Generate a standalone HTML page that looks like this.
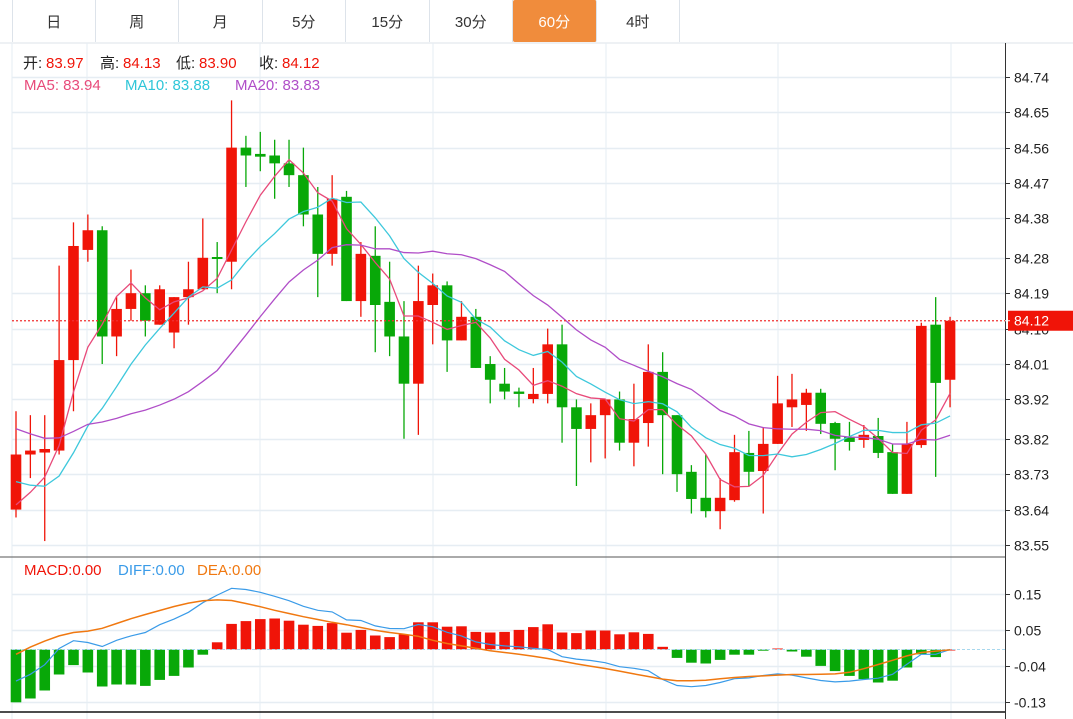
<!DOCTYPE html>
<html><head><meta charset="utf-8"><style>
body{margin:0;background:#fff;width:1073px;height:719px;overflow:hidden;font-family:"Liberation Sans","Noto Sans CJK SC",sans-serif}
.tabs{position:absolute;left:12px;top:0;height:42px;display:flex}
.tab{width:83.5px;height:42px;box-sizing:border-box;border-right:1px solid #dde3ea;display:flex;align-items:center;justify-content:center;font-size:15px;color:#333}
.tab.on{background:#f08c3c;color:#fff;border-radius:2px}
svg{position:absolute;left:0;top:0}
</style></head><body>
<div class="tabs">
<div class="tab" style="border-left:1px solid #dde3ea">日</div>
<div class="tab">周</div>
<div class="tab">月</div>
<div class="tab">5分</div>
<div class="tab">15分</div>
<div class="tab">30分</div>
<div class="tab on">60分</div>
<div class="tab">4时</div>
</div>
<svg id="chart" width="1073" height="719"></svg>
<script>
const opens=[83.64,83.78,83.785,83.79,84.02,84.30,84.35,84.08,84.15,84.19,84.11,84.09,84.18,84.20,84.282,84.27,84.56,84.544,84.54,84.52,84.49,84.39,84.29,84.435,84.17,84.285,84.168,84.08,83.96,84.16,84.21,84.07,84.13,84.01,83.96,83.94,83.921,83.934,84.06,83.90,83.845,83.88,83.92,83.81,83.86,83.99,83.88,83.736,83.67,83.636,83.664,83.784,83.738,83.807,83.90,83.906,83.937,83.86,83.825,83.817,83.827,83.786,83.68,83.804,84.11,83.97];
const highs=[83.89,83.88,83.88,84.26,84.37,84.39,84.36,84.18,84.25,84.21,84.21,84.18,84.27,84.38,84.32,84.68,84.59,84.60,84.58,84.58,84.56,84.46,84.49,84.45,84.32,84.36,84.27,84.17,84.26,84.24,84.22,84.17,84.15,84.03,84.00,83.95,84.00,84.10,84.11,83.92,83.91,83.92,83.94,83.96,84.06,84.04,83.88,83.753,83.78,83.72,83.83,83.84,83.85,83.98,83.985,83.947,83.947,83.863,83.863,83.855,83.873,83.807,83.863,84.115,84.18,84.13];
const lows=[83.62,83.72,83.56,83.78,83.89,84.27,84.01,84.03,84.12,84.08,84.11,84.05,84.11,84.20,84.19,84.20,84.46,84.50,84.43,84.46,84.36,84.18,84.26,84.17,84.13,84.04,84.03,83.82,83.83,84.06,83.99,84.07,84.00,83.91,83.92,83.90,83.91,83.91,83.81,83.70,83.76,83.77,83.79,83.75,83.80,83.73,83.685,83.63,83.62,83.59,83.66,83.70,83.63,83.807,83.85,83.84,83.832,83.74,83.79,83.797,83.771,83.68,83.68,83.797,83.723,83.90];
const closes=[83.78,83.79,83.794,84.02,84.31,84.35,84.08,84.15,84.19,84.12,84.20,84.18,84.20,84.28,84.278,84.56,84.54,84.537,84.52,84.49,84.39,84.29,84.43,84.17,84.29,84.16,84.08,83.96,84.17,84.21,84.07,84.13,84.00,83.97,83.94,83.934,83.934,84.06,83.90,83.845,83.88,83.92,83.81,83.87,83.99,83.88,83.73,83.667,83.636,83.67,83.786,83.736,83.807,83.91,83.92,83.937,83.858,83.82,83.812,83.83,83.784,83.68,83.807,84.107,83.962,84.12];
const priorCloses=[84.05,84.02,84.00,83.98,83.99,83.96,83.97,83.95,83.94,83.94,83.88,83.82,83.76,83.72,83.67,83.63,83.60,83.62,83.63];
const histVals=[-0.132,-0.1225,-0.1025,-0.0625,-0.039,-0.0575,-0.0925,-0.0875,-0.0875,-0.091,-0.076,-0.066,-0.045,-0.013,0.018,0.064,0.071,0.076,0.0775,0.072,0.062,0.059,0.066,0.042,0.049,0.035,0.031,0.0375,0.068,0.068,0.057,0.058,0.044,0.0425,0.044,0.049,0.056,0.063,0.0425,0.041,0.0475,0.0475,0.038,0.043,0.039,0.0067,-0.021,-0.033,-0.035,-0.026,-0.013,-0.013,-0.003,0.0025,-0.005,-0.018,-0.041,-0.054,-0.066,-0.074,-0.0825,-0.078,-0.045,-0.012,-0.019,0];
const diffVals=[-0.079,-0.062,-0.038,0.0025,0.022,0.0175,0.0075,0.023,0.034,0.0425,0.062,0.076,0.093,0.117,0.136,0.153,0.15,0.143,0.133,0.122,0.108,0.098,0.094,0.074,0.0725,0.059,0.0525,0.052,0.0625,0.057,0.043,0.034,0.019,0.0125,0.009,0.0067,0.003,0,-0.018,-0.024,-0.0275,-0.033,-0.043,-0.047,-0.053,-0.075,-0.09,-0.093,-0.09,-0.0825,-0.073,-0.071,-0.065,-0.061,-0.064,-0.071,-0.0775,-0.081,-0.079,-0.075,-0.0717,-0.062,-0.037,-0.012,-0.012,0];
const deaVals=[-0.012,0.006,0.021,0.034,0.0425,0.046,0.053,0.065,0.077,0.0875,0.0975,0.1075,0.116,0.122,0.124,0.1225,0.115,0.107,0.098,0.09,0.082,0.075,0.068,0.062,0.055,0.048,0.0425,0.038,0.033,0.023,0.015,0.009,0.003,-0.003,-0.0075,-0.012,-0.017,-0.0225,-0.029,-0.036,-0.042,-0.0475,-0.054,-0.061,-0.0675,-0.074,-0.078,-0.078,-0.077,-0.073,-0.07,-0.0675,-0.066,-0.064,-0.0625,-0.0625,-0.062,-0.061,-0.057,-0.048,-0.0375,-0.027,-0.016,-0.0075,-0.004,-0.001];
const priceTicks=[84.74,84.65,84.56,84.47,84.38,84.28,84.19,84.10,84.01,83.92,83.82,83.73,83.64,83.55];
const macdTicks=[0.14,0.05,-0.04,-0.13];
const macdTickLabels=['0.15','0.05','-0.04','-0.13'];
const lastPrice=84.12;

const svg=document.getElementById('chart');
const NS='http://www.w3.org/2000/svg';
function mk(tag,attrs,parent){const e=document.createElementNS(NS,tag);for(const k in attrs)e.setAttribute(k,attrs[k]);(parent||svg).appendChild(e);return e;}
const xOf=i=>16+i*14.37;
const yP=p=>545-(p-83.55)*36/0.0915;
const yM=v=>649.5-v*400;
const RED='#f01408',GREEN='#08a808';

let g;
g=mk('line',{x1:0,y1:43,x2:1073,y2:43,stroke:'#dde3ea'});


[12,87,260,433,606,778,951].forEach(x=>{
  g=mk('line',{x1:x,y1:43,x2:x,y2:719,stroke:'#e6edf3'});
  
  
});
priceTicks.forEach(t=>{
  const y=Math.round(yP(t))+0.5;
  g=mk('line',{x1:12,y1:y,x2:1005,y2:y,stroke:'#e6edf3','stroke-width':1.5});
  
  
  mk('line',{x1:1005,y1:y,x2:1010,y2:y,stroke:'#333'});
  g=mk('text',{x:1014,y:y+5,'font-size':14,fill:'#222'});
  g.textContent=t.toFixed(2);
  
  
});
g=mk('line',{x1:0,y1:557,x2:1005,y2:557,stroke:'#555'});


g=mk('line',{x1:0,y1:712,x2:1005,y2:712,stroke:'#111','stroke-width':1.5});
g=mk('line',{x1:1005.5,y1:43,x2:1005.5,y2:719,stroke:'#333'});


macdTicks.forEach((t,k)=>{
  const y=Math.round(yM(t))+0.5;
  g=mk('line',{x1:12,y1:y,x2:1005,y2:y,stroke:'#e6edf3','stroke-width':1.5});
  
  
  mk('line',{x1:1005,y1:y,x2:1010,y2:y,stroke:'#333'});
  g=mk('text',{x:1014,y:y+5,'font-size':14,fill:'#222'});
  g.textContent=macdTickLabels[k];
  
  
});

closes.forEach((c,i)=>{
  const o=opens[i],x=xOf(i),up=c>=o,col=up?RED:GREEN;
  g=mk('line',{x1:x,y1:yP(highs[i]),x2:x,y2:yP(lows[i]),stroke:col,'stroke-width':1.3});
  
  
  const top=yP(Math.max(o,c)),h=Math.max(2,Math.abs(yP(o)-yP(c)));
  g=mk('rect',{x:x-5.3,y:top,width:10.6,height:h,fill:col});
  
  
});

const full=priorCloses.concat(closes);
function ma(n){return closes.map((_,i)=>{let s=0;for(let k=0;k<n;k++)s+=full[i+19-k];return s/n;});}
[[5,'#e84a7a','ma5-line'],[10,'#3ec8dc','ma10-line'],[20,'#b04ec8','ma20-line']].forEach(([n,col,name])=>{
  const m=ma(n);
  g=mk('polyline',{points:m.map((v,i)=>xOf(i)+','+yP(v)).join(' '),fill:'none',stroke:col,'stroke-width':1.3});
  
  
});

const ly=yP(lastPrice);
g=mk('line',{x1:12,y1:ly,x2:1005,y2:ly,stroke:'#f03030','stroke-width':1.3,'stroke-dasharray':'2,2'});


g=mk('rect',{x:1008,y:ly-10,width:65,height:20,fill:'#f01408'});


mk('line',{x1:1005,y1:ly,x2:1010,y2:ly,stroke:'#fff'});
g=mk('text',{x:1014,y:ly+5,'font-size':14,fill:'#fff'});
g.textContent=lastPrice.toFixed(2);

histVals.forEach((h,i)=>{
  const x=xOf(i),y0=yM(0),y1=yM(h);
  g=mk('rect',{x:x-5.3,y:Math.min(y0,y1),width:10.6,height:Math.max(1,Math.abs(y1-y0)),fill:h>=0?RED:GREEN});
  
  
});
g=mk('line',{x1:12,y1:yM(0),x2:1005,y2:yM(0),stroke:'#a8d8ee','stroke-dasharray':'3,2'});


g=mk('polyline',{points:diffVals.map((v,i)=>xOf(i)+','+yM(v)).join(' '),fill:'none',stroke:'#3a9be8','stroke-width':1.2});


g=mk('polyline',{points:deaVals.map((v,i)=>xOf(i)+','+yM(v)).join(' '),fill:'none',stroke:'#f07810','stroke-width':1.5});



function item(x,y,s,c,name){
  const t=mk('text',{x:x,y:y,'font-size':15,fill:c});
  t.textContent=s;
  
  
}
item(23,68,'开:','#222','open-label');item(46,68,'83.97','#f01408','open-value');
item(100,68,'高:','#222','high-label');item(123,68,'84.13','#f01408','high-value');
item(176,68,'低:','#222','low-label');item(199,68,'83.90','#f01408','low-value');
item(259,68,'收:','#222','close-label');item(282,68,'84.12','#f01408','close-value');
item(24,90,'MA5: 83.94','#e84a7a','ma5-legend');
item(125,90,'MA10: 83.88','#2fc6d8','ma10-legend');
item(235,90,'MA20: 83.83','#b04ec8','ma20-legend');
item(24,575,'MACD:0.00','#f01408','macd-legend');
item(118,575,'DIFF:0.00','#3a9be8','diff-legend');
item(197,575,'DEA:0.00','#f07810','dea-legend');
</script>
</body></html>
